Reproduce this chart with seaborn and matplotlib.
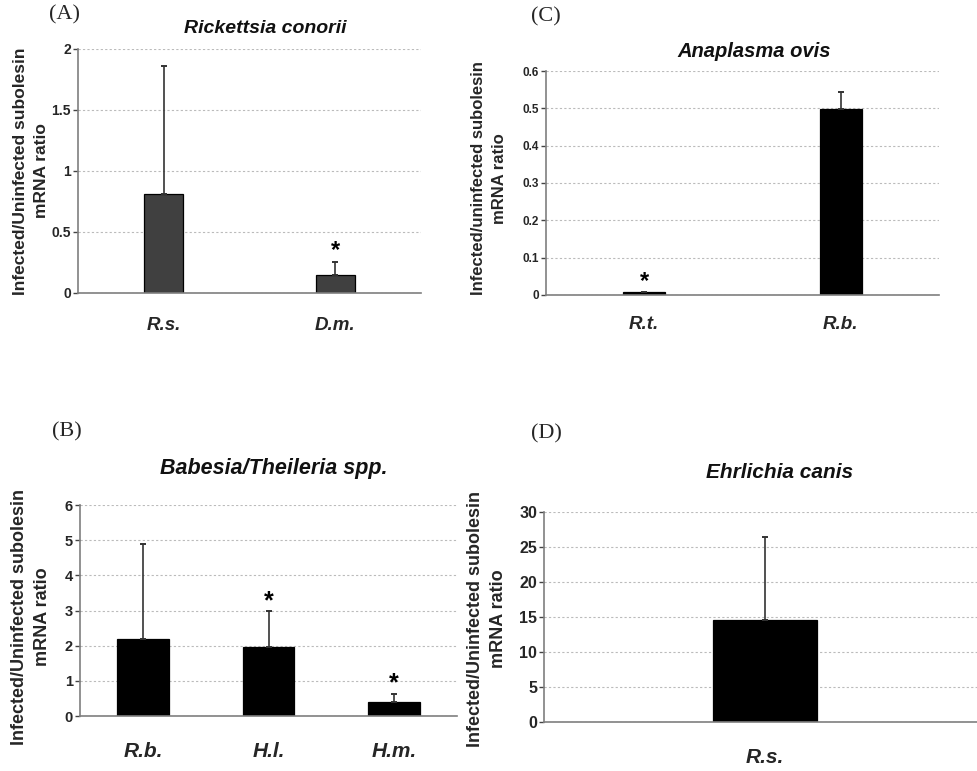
import matplotlib
matplotlib.use("Agg")
import matplotlib.pyplot as plt
import seaborn as sns
import pandas as pd
import numpy as np

# ---------------- data ----------------
a_cats = ["R.s.", "D.m."]
a_vals = [0.81, 0.15]
a_errs = [1.05, 0.10]
a_sig = [False, True]
a_yticks = [0, 0.5, 1, 1.5, 2]
a_yticklabels = ["0", "0.5", "1", "1.5", "2"]

c_cats = ["R.t.", "R.b."]
c_vals = [0.007, 0.497]
c_errs = [0.002, 0.046]
c_sig = [True, False]
c_yticks = [0, 0.1, 0.2, 0.3, 0.4, 0.5, 0.6]
c_yticklabels = ["0", "0.1", "0.2", "0.3", "0.4", "0.5", "0.6"]

b_cats = ["R.b.", "H.l.", "H.m."]
b_vals = [2.2, 1.97, 0.41]
b_errs = [2.69, 1.01, 0.23]
b_sig = [False, True, True]
b_yticks = [0, 1, 2, 3, 4, 5, 6]
b_yticklabels = ["0", "1", "2", "3", "4", "5", "6"]

d_cats = ["R.s."]
d_vals = [14.5]
d_errs = [11.9]
d_sig = [False]
d_yticks = [0, 5, 10, 15, 20, 25, 30]
d_yticklabels = ["0", "5", "10", "15", "20", "25", "30"]

sns.set_theme(style="white")
plt.rcParams["font.family"] = ["Liberation Sans", "DejaVu Sans"]

fig = plt.figure(figsize=(9.77, 7.71), dpi=100)

AXIS_GRAY = "#7f7f7f"


def panel(rect, cats, vals, errs, sig, yticks, yticklabels, color, width,
          title, title_xy, title_size, ylabel, ylabel_xy, ylabel_size,
          tick_size, xtick_size, xpad, star_size, xlim=None):
    ax = fig.add_axes(rect)
    df = pd.DataFrame({"cat": cats, "val": vals})
    sns.barplot(data=df, x="cat", y="val", color=color, width=width,
                edgecolor="black", linewidth=0.9, saturation=1,
                errorbar=None, ax=ax, zorder=3)
    pos = np.arange(len(cats))
    lows = np.zeros(len(errs))
    ax.errorbar(pos, vals, yerr=[lows, errs], fmt="none", ecolor="#333333",
                elinewidth=1.2, capsize=2.5, capthick=1.4, zorder=4)
    ymax = yticks[-1]
    for p, v, e, s in zip(pos, vals, errs, sig):
        if s:
            ax.text(p, v + e + 0.047 * ymax, "*", ha="center", va="center",
                    fontsize=star_size, fontweight="bold", color="black",
                    zorder=5)
    ax.set_ylim(0, ymax)
    if xlim is None:
        ax.set_xlim(-0.5, len(cats) - 0.5)
    else:
        ax.set_xlim(*xlim)
    ax.set_yticks(yticks)
    ax.set_yticklabels(yticklabels, fontsize=tick_size, fontweight="bold")
    ax.set_xticks(pos)
    ax.set_xticklabels(cats, fontsize=xtick_size, fontweight="bold",
                       fontstyle="italic")
    ax.set_xticks(np.arange(len(cats) + 1) - 0.5, minor=True)
    ax.tick_params(axis="x", which="major", length=0, pad=xpad)
    ax.tick_params(axis="x", which="minor", length=4, width=1,
                   color=AXIS_GRAY, direction="out")
    ax.tick_params(axis="y", which="major", length=3.5, width=1,
                   color="#444444", direction="out", pad=1.5, left=True)
    ax.set_xlabel("")
    ax.set_ylabel(ylabel, fontsize=ylabel_size, fontweight="bold",
                  linespacing=1.5, va="center")
    ax.yaxis.set_label_coords(*ylabel_xy)
    ax.grid(axis="y", color="#bbbbbb", linestyle=(0, (2, 2)), linewidth=0.8,
            zorder=0)
    ax.set_axisbelow(True)
    for sp in ["top", "right"]:
        ax.spines[sp].set_visible(False)
    for sp in ["left", "bottom"]:
        ax.spines[sp].set_color(AXIS_GRAY)
        ax.spines[sp].set_linewidth(1.2)
        ax.spines[sp].set_zorder(6)
    ax.text(title_xy[0], title_xy[1], title, transform=ax.transAxes,
            ha="center", va="center", fontsize=title_size, fontweight="bold",
            fontstyle="italic", color="#111111")
    return ax


label_A = "Infected/Uninfected subolesin\nmRNA ratio"
label_C = "Infected/uninfected subolesin\nmRNA ratio"

panel([0.0798, 0.620, 0.351, 0.3165], a_cats, a_vals, a_errs, a_sig,
      a_yticks, a_yticklabels, "#404040", 0.227,
      "Rickettsia conorii", (0.545, 1.082), 14,
      label_A, (-0.137, 0.5), 12.5, 10, 13.5, 17, 17)

panel([0.5589, 0.6174, 0.4022, 0.2905], c_cats, c_vals, c_errs, c_sig,
      c_yticks, c_yticklabels, "black", 0.215,
      "Anaplasma ovis", (0.529, 1.085), 14.5,
      label_C, (-0.145, 0.52), 12, 8.5, 13.5, 15, 17)

panel([0.0819, 0.0713, 0.3859, 0.2737], b_cats, b_vals, b_errs, b_sig,
      b_yticks, b_yticklabels, "black", 0.41,
      "Babesia/Theileria spp.", (0.515, 1.171), 15.5,
      label_A, (-0.13, 0.47), 13, 10.5, 15, 18.5, 18)

panel([0.5568, 0.0636, 0.4524, 0.2724], d_cats, d_vals, d_errs, d_sig,
      d_yticks, d_yticklabels, "black", 0.235,
      "Ehrlichia canis", (0.534, 1.186), 15,
      label_A, (-0.129, 0.49), 13, 11.5, 15, 18.5, 18)

serif = ["Liberation Serif", "DejaVu Serif"]
fig.text(0.0665, 0.9805, "(A)", family=serif, fontsize=16, ha="center", va="center")
fig.text(0.559, 0.978, "(C)", family=serif, fontsize=16, ha="center", va="center")
fig.text(0.0686, 0.4397, "(B)", family=serif, fontsize=16, ha="center", va="center")
fig.text(0.559, 0.437, "(D)", family=serif, fontsize=16, ha="center", va="center")

fig.savefig("out.png", dpi=100)
